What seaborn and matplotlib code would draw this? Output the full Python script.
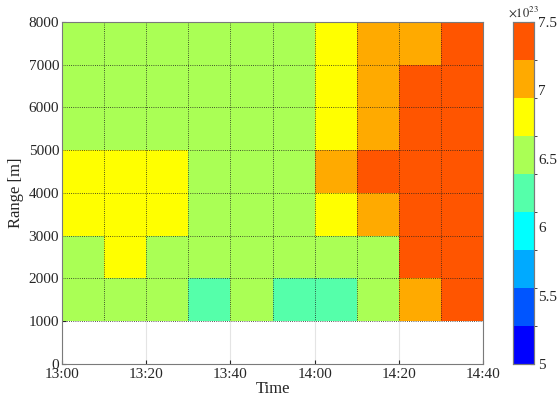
"""
Range-time map of the retrieved quantity (x1e23), discrete jet-like colormap
"""

import numpy as np
import pandas as pd
import matplotlib
matplotlib.use("Agg")
import matplotlib.pyplot as plt
from matplotlib.colors import ListedColormap, BoundaryNorm
import seaborn as sns

# time bins (10 min) and range bins (1000 m), top row first
times = ['13:00', '13:10', '13:20', '13:30', '13:40', '13:50',
         '14:00', '14:10', '14:20', '14:30']
ranges = [8000, 7000, 6000, 5000, 4000, 3000, 2000, 1000]  # upper edge of each bin

# values in units of 1e23, one list per range bin (top to bottom)
row_7000_8000 = [6.55, 6.55, 6.55, 6.55, 6.55, 6.55, 6.80, 7.10, 7.10, 7.35]
row_6000_7000 = [6.55, 6.55, 6.55, 6.55, 6.55, 6.55, 6.80, 7.10, 7.35, 7.35]
row_5000_6000 = [6.55, 6.55, 6.55, 6.55, 6.55, 6.55, 6.80, 7.10, 7.35, 7.35]
row_4000_5000 = [6.80, 6.80, 6.80, 6.55, 6.55, 6.55, 7.10, 7.35, 7.35, 7.35]
row_3000_4000 = [6.80, 6.80, 6.80, 6.55, 6.55, 6.55, 6.80, 7.10, 7.35, 7.35]
row_2000_3000 = [6.55, 6.80, 6.55, 6.55, 6.55, 6.55, 6.55, 6.55, 7.35, 7.35]
row_1000_2000 = [6.55, 6.55, 6.55, 6.25, 6.55, 6.25, 6.25, 6.55, 7.10, 7.35]
row_0_1000 = [np.nan] * 10  # no data below 1000 m

level_colors = ['#0000ff', '#0055ff', '#00aaff', '#00ffff', '#55ffaa',
                '#aaff55', '#ffff00', '#ffaa00', '#ff5500']
cbar_ticks = [5, 5.5, 6, 6.5, 7, 7.5]
x_ticks = ['13:00', '13:20', '13:40', '14:00', '14:20', '14:40']
y_ticks = [8000, 7000, 6000, 5000, 4000, 3000, 2000, 1000, 0]

df = pd.DataFrame([row_7000_8000, row_6000_7000, row_5000_6000, row_4000_5000,
                   row_3000_4000, row_2000_3000, row_1000_2000, row_0_1000],
                  columns=times)

sns.set_style("white")
plt.rcParams['font.family'] = ['Liberation Serif', 'DejaVu Serif']
plt.rcParams['mathtext.fontset'] = 'stix'

cmap = ListedColormap(level_colors)
bounds = np.linspace(5, 7.5, len(level_colors) + 1)
norm = BoundaryNorm(bounds, cmap.N)

fig = plt.figure(figsize=(5.58, 4.04), dpi=100)
ax = fig.add_axes([0.111, 0.099, 0.755, 0.847])
cax = fig.add_axes([0.919, 0.099, 0.038, 0.847])

# light grid at the major ticks, beneath the cells
ax.set_axisbelow(True)
for k in range(0, len(times) + 1, 2):
    ax.axvline(k, color='#e4e4e4', lw=0.8, zorder=0.5)

sns.heatmap(df, ax=ax, cmap=cmap, norm=norm, cbar_ax=cax,
            xticklabels=False, yticklabels=False)

# dotted cell edges over the data area
n_rows = df.notna().any(axis=1).sum()
ax.vlines(np.arange(len(times) + 1), 0, n_rows, colors='#202020',
          linestyles=(0, (1, 1.6)), lw=0.6)
ax.hlines(np.arange(n_rows + 1), 0, len(times), colors='#202020',
          linestyles=(0, (1, 1.6)), lw=0.6)

ax.set_xticks(np.arange(0, len(times) + 1, 2))
ax.set_xticklabels(x_ticks)
ax.set_yticks(np.arange(len(y_ticks)))
ax.set_yticklabels(y_ticks, rotation=0)
ax.set_xlim(0, len(times))
ax.set_ylim(len(ranges), 0)
ax.tick_params(direction='in', length=3, colors='#262626', labelsize=11, pad=2,
               top=False, right=False, bottom=True, left=True)
ax.tick_params(axis='x', pad=3)
for s in ax.spines.values():
    s.set_visible(True)
    s.set_color('#7a7a7a')
    s.set_linewidth(0.8)
ax.set_xlabel('Time', fontsize=12, labelpad=0)
ax.set_ylabel('Range [m]', fontsize=12, labelpad=3)

cax.set_yticks(cbar_ticks)
cax.set_yticklabels([f'{t:g}' for t in cbar_ticks])
cax.tick_params(direction='in', length=3, colors='#262626', labelsize=11, pad=3)
for s in cax.spines.values():
    s.set_visible(True)
    s.set_color('#7a7a7a')
    s.set_linewidth(0.8)
cax.text(0.5, 1.005, r'$\times10^{23}$', transform=cax.transAxes,
         ha='center', va='bottom', fontsize=9, color='#262626')

fig.savefig('out.png', dpi=100)
